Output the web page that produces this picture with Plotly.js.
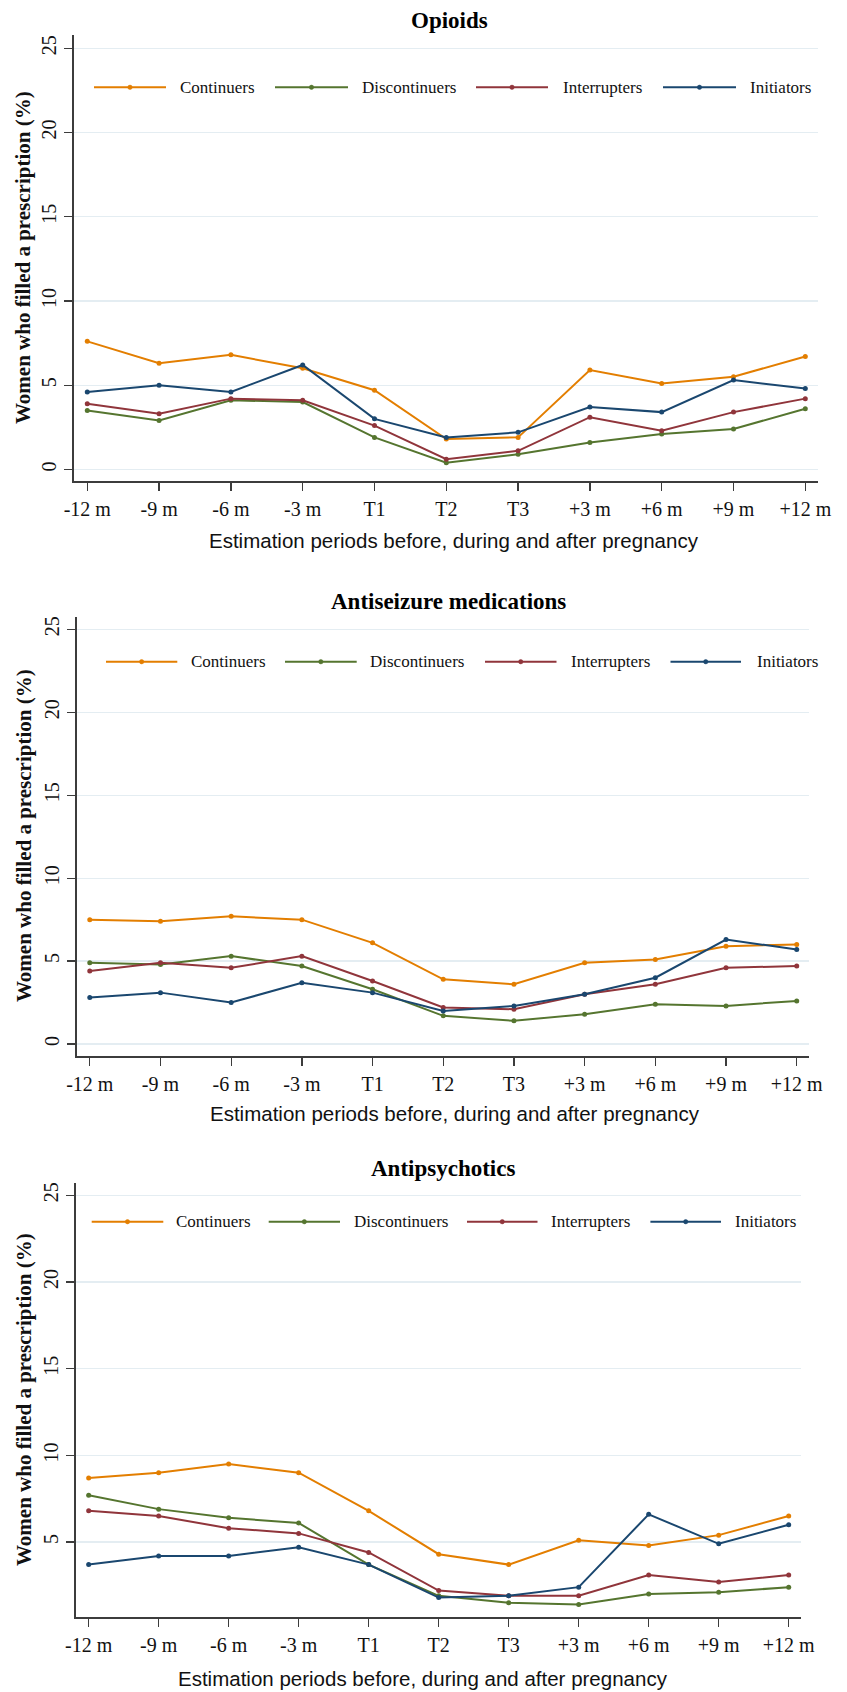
<!DOCTYPE html>
<html><head><meta charset="utf-8">
<script src="https://cdn.plot.ly/plotly-3.0.1.min.js"></script>
<style>html,body{margin:0;padding:0;background:#fff}#chart{width:847px;height:1692px}</style>
</head><body><div id="chart"></div>
<script>
// ---------- data ----------
const periods = ['-12 m','-9 m','-6 m','-3 m','T1','T2','T3','+3 m','+6 m','+9 m','+12 m'];
const groups = ['Continuers','Discontinuers','Interrupters','Initiators'];
const panelTitles = ['Opioids','Antiseizure medications','Antipsychotics'];
const yTickVals = [0,5,10,15,20,25];

const opioidsContinuers    = [7.6, 6.3, 6.8, 6.0, 4.7, 1.8, 1.9, 5.9, 5.1, 5.5, 6.7];
const opioidsDiscontinuers = [3.5, 2.9, 4.1, 4.0, 1.9, 0.4, 0.9, 1.6, 2.1, 2.4, 3.6];
const opioidsInterrupters  = [3.9, 3.3, 4.2, 4.1, 2.6, 0.6, 1.1, 3.1, 2.3, 3.4, 4.2];
const opioidsInitiators    = [4.6, 5.0, 4.6, 6.2, 3.0, 1.9, 2.2, 3.7, 3.4, 5.3, 4.8];

const antiseizureContinuers    = [7.5, 7.4, 7.7, 7.5, 6.1, 3.9, 3.6, 4.9, 5.1, 5.9, 6.0];
const antiseizureDiscontinuers = [4.9, 4.8, 5.3, 4.7, 3.3, 1.7, 1.4, 1.8, 2.4, 2.3, 2.6];
const antiseizureInterrupters  = [4.4, 4.9, 4.6, 5.3, 3.8, 2.2, 2.1, 3.0, 3.6, 4.6, 4.7];
const antiseizureInitiators    = [2.8, 3.1, 2.5, 3.7, 3.1, 2.0, 2.3, 3.0, 4.0, 6.3, 5.7];

const antipsychoticsContinuers    = [8.7, 9.0, 9.5, 9.0, 6.8, 4.3, 3.7, 5.1, 4.8, 5.4, 6.5];
const antipsychoticsDiscontinuers = [7.7, 6.9, 6.4, 6.1, 3.7, 1.9, 1.5, 1.4, 2.0, 2.1, 2.4];
const antipsychoticsInterrupters  = [6.8, 6.5, 5.8, 5.5, 4.4, 2.2, 1.9, 1.9, 3.1, 2.7, 3.1];
const antipsychoticsInitiators    = [3.7, 4.2, 4.2, 4.7, 3.7, 1.8, 1.9, 2.4, 6.6, 4.9, 6.0];

const panelSeries = [
  [opioidsContinuers, opioidsDiscontinuers, opioidsInterrupters, opioidsInitiators],
  [antiseizureContinuers, antiseizureDiscontinuers, antiseizureInterrupters, antiseizureInitiators],
  [antipsychoticsContinuers, antipsychoticsDiscontinuers, antipsychoticsInterrupters, antipsychoticsInitiators]
];

// ---------- styling / layout ----------
const W = 847, H = 1692;
const colors = ['rgb(227,126,0)','rgb(85,117,47)','rgb(144,53,59)','rgb(26,71,111)'];
const X = px => px / W;
const Y = py => 1 - py / H;
const SERIF = 'Liberation Serif, Times New Roman, serif';
const SANS = 'Liberation Sans, Arial, sans-serif';

// pixel geometry of each panel
const panels = [
  {x0:74,   x1:818.3, top:35,     bot:481,    xr:[-0.185,10.181], yr:[-0.69,25.79],
   title:[449,20], xt:[454,540], yt:[23,258],
   leg:{y:87.3, lines:[[94,166],[275,348],[476,548],[663,736]], text:[178,360,561,748]}},
  {x0:76.7, x1:809.3, top:616.7,  bot:1056,   xr:[-0.185,10.178], yr:[-0.72,25.76],
   title:[448,601.7], xt:[455,1113], yt:[24,836],
   leg:{y:661.7, lines:[[106,177.3],[285,356.7],[485,556.5],[670.5,741]], text:[189.3,368.3,569,754.6]}},
  {x0:76,   x1:801.3, top:1182.7, bot:1617.3, xr:[-0.181,10.18], yr:[0.66,25.73],
   title:[443,1168.3], xt:[423,1678], yt:[24,1400],
   leg:{y:1221.7, lines:[[91.7,163.3],[268.7,340],[467,537.5],[650.4,721]], text:[174.3,351.7,549.4,733]}}
];

const data = [];
const layout = {
  width: W, height: H,
  margin: {l:0, r:0, t:0, b:0},
  paper_bgcolor: '#fff', plot_bgcolor: '#fff',
  showlegend: false,
  annotations: [], shapes: []
};

panels.forEach((p, i) => {
  const sfx = i === 0 ? '' : String(i + 1);
  groups.forEach((g, k) => {
    data.push({
      type: 'scatter', mode: 'lines+markers', name: g,
      x: periods, y: panelSeries[i][k],
      xaxis: 'x' + sfx, yaxis: 'y' + sfx,
      line: {color: colors[k], width: 2},
      marker: {color: colors[k], size: 5},
      hoverinfo: 'x+y+name'
    });
  });
  layout['xaxis' + sfx] = {
    domain: [X(p.x0), X(p.x1)], anchor: 'y' + sfx,
    type: 'category', categoryorder: 'array', categoryarray: periods,
    range: p.xr, showgrid: false, zeroline: false,
    showline: true, linecolor: 'rgb(60,60,60)', linewidth: 1.6,
    ticks: 'outside', ticklen: 8, tickwidth: 1.3, tickcolor: 'rgb(60,60,60)',
    ticklabelstandoff: 1,
    tickfont: {family: SERIF, size: 20, color: '#111'},
    fixedrange: true
  };
  layout['yaxis' + sfx] = {
    domain: [Y(p.bot), Y(p.top)], anchor: 'x' + sfx,
    range: p.yr, tickvals: yTickVals, ticktext: yTickVals.map(String),
    showgrid: true, gridcolor: 'rgb(228,237,242)', gridwidth: 1.3, zeroline: false,
    showline: true, linecolor: 'rgb(60,60,60)', linewidth: 1.6,
    ticks: 'outside', ticklen: 8, tickwidth: 1.3, tickcolor: 'rgb(60,60,60)',
    tickangle: -90,
    tickfont: {family: SERIF, size: 20, color: '#111'},
    fixedrange: true
  };
  // panel title
  layout.annotations.push({
    text: '<b>' + panelTitles[i] + '</b>', xref: 'paper', yref: 'paper',
    x: X(p.title[0]), y: Y(p.title[1]), xanchor: 'center', yanchor: 'middle',
    showarrow: false, font: {family: SERIF, size: 23, color: '#000'}
  });
  // x axis title
  layout.annotations.push({
    text: 'Estimation periods before, during and after pregnancy', xref: 'paper', yref: 'paper',
    x: X(p.xt[0]), y: Y(p.xt[1]), xanchor: 'center', yanchor: 'middle',
    showarrow: false, font: {family: SANS, size: 20.5, color: '#111'}
  });
  // y axis title
  layout.annotations.push({
    text: '<b>Women who filled a prescription (%)</b>', xref: 'paper', yref: 'paper',
    x: X(p.yt[0]), y: Y(p.yt[1]), xanchor: 'center', yanchor: 'middle', textangle: -90,
    showarrow: false, font: {family: SERIF, size: 21, color: '#111'}
  });
  // legend (drawn inside plot region, Stata style)
  groups.forEach((g, k) => {
    const [a, b] = p.leg.lines[k];
    const yy = Y(p.leg.y);
    layout.shapes.push({type: 'line', xref: 'paper', yref: 'paper',
      x0: X(a), x1: X(b), y0: yy, y1: yy, line: {color: colors[k], width: 2}});
    const cx = (a + b) / 2;
    layout.shapes.push({type: 'circle', xref: 'paper', yref: 'paper',
      x0: X(cx - 2.2), x1: X(cx + 2.2), y0: Y(p.leg.y + 2.2), y1: Y(p.leg.y - 2.2),
      fillcolor: colors[k], line: {color: colors[k], width: 0.5}});
    layout.annotations.push({
      text: g, xref: 'paper', yref: 'paper', x: X(p.leg.text[k]), y: yy,
      xanchor: 'left', yanchor: 'middle', showarrow: false,
      font: {family: SERIF, size: 17, color: '#111'}
    });
  });
});

Plotly.newPlot('chart', data, layout, {staticPlot: true, displayModeBar: false});
</script>
</body></html>
